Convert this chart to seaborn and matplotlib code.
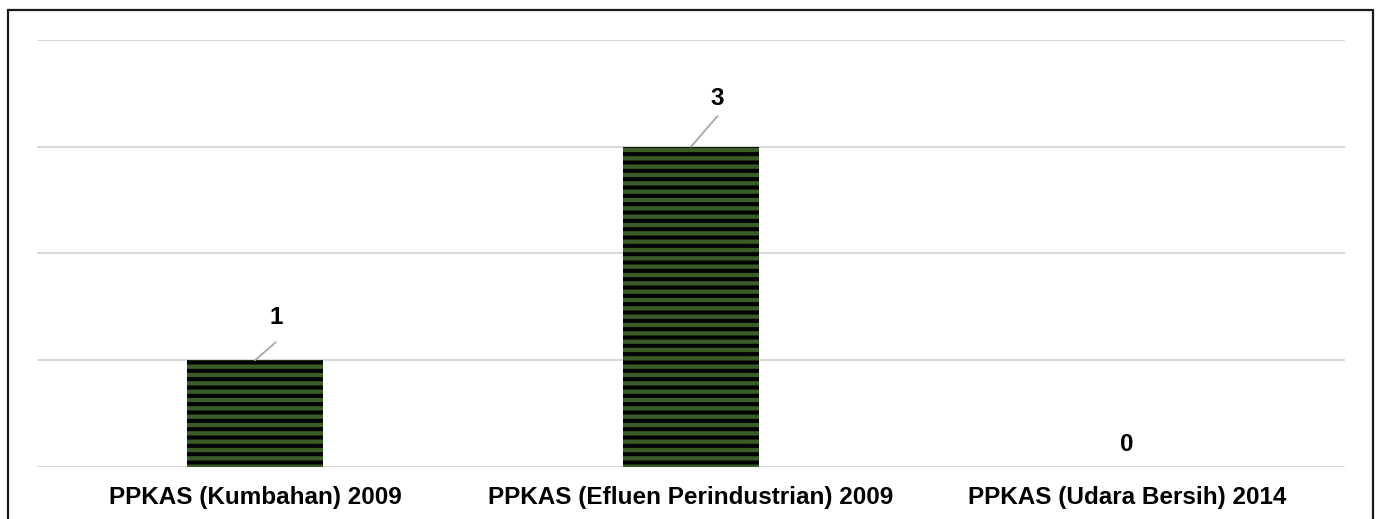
import matplotlib
matplotlib.use("Agg")
import matplotlib.pyplot as plt
from matplotlib.lines import Line2D
import seaborn as sns
import pandas as pd

# data
categories = ["PPKAS (Kumbahan) 2009",
              "PPKAS (Efluen Perindustrian) 2009",
              "PPKAS (Udara Bersih) 2014"]
values = [1, 3, 0]

sns.set_style("white")
plt.rcParams['font.family'] = ['Liberation Sans', 'DejaVu Sans']
plt.rcParams['hatch.linewidth'] = 2.9
plt.rcParams['text.color'] = 'black'
plt.rcParams['xtick.color'] = 'black'

df = pd.DataFrame({"cat": categories, "val": values})

fig = plt.figure(figsize=(13.78, 5.19), dpi=100)
ax = fig.add_axes([37/1378, 52/519, 1308/1378, 427/519])

sns.barplot(data=df, x="cat", y="val", ax=ax, color="#3a5d27",
            width=0.312, saturation=1, linewidth=0)
for p in ax.patches:
    p.set_edgecolor('black')
    p.set_linewidth(0)
    p.set_hatch('--')
    p.set_zorder(3)

ax.set_ylim(0, 4)
ax.set_xlim(-0.5, 2.5)
ax.set_yticks([0, 1, 2, 3, 4])
ax.set_yticklabels([])
ax.yaxis.grid(True, color='#d9d9d9', linewidth=1.5)
ax.set_axisbelow(True)
for s in ax.spines.values():
    s.set_visible(False)
ax.set_xlabel("")
ax.set_ylabel("")
ax.tick_params(axis='both', length=0)
ax.tick_params(axis='x', pad=14, labelcolor='black')
for t in ax.get_xticklabels():
    t.set_fontsize(17.5)
    t.set_fontweight('bold')

# data labels with leader lines (offsets in points)
text_off = [(15, 31), (19, 35), (0, 16.5)]
line_off = [(15, 13), (19, 22), None]
for i, v in enumerate(values):
    if line_off[i] is not None:
        ax.annotate("", xy=(i, v), xytext=line_off[i], textcoords='offset points',
                    arrowprops=dict(arrowstyle='-', color='#a6a6a6', lw=1.3,
                                    shrinkA=0, shrinkB=0))
    ax.annotate(str(v), xy=(i, v), xytext=text_off[i], textcoords='offset points',
                ha='center', va='center', fontsize=17.5, fontweight='bold',
                color='black')

# outer frame (open at bottom)
fx0, fx1, fy = 7.5/1378, 1372.5/1378, 1 - 9.5/519
for xs, ys in [([fx0, fx1], [fy, fy]), ([fx0, fx0], [fy, 0]), ([fx1, fx1], [fy, 0])]:
    fig.add_artist(Line2D(xs, ys, color='#1a1a1a', lw=1.6, transform=fig.transFigure))

fig.savefig("out.png", dpi=100)
